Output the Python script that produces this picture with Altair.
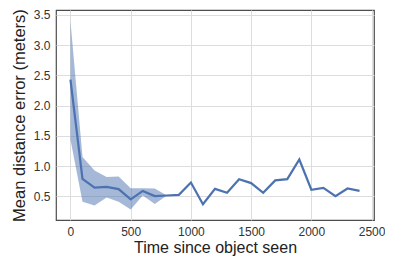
import altair as alt
import pandas as pd

time = [0, 100, 200, 300, 400, 500, 600, 700, 800, 900, 1000, 1100, 1200,
        1300, 1400, 1500, 1600, 1700, 1800, 1900, 2000, 2100, 2200, 2300, 2400]
mean_err = [2.43, 0.79, 0.645, 0.656, 0.62, 0.45, 0.59, 0.505, 0.515, 0.525, 0.73,
            0.37, 0.625, 0.56, 0.785, 0.72, 0.56, 0.765, 0.785, 1.11, 0.61, 0.64,
            0.505, 0.63, 0.59]
ci_low = [1.44, 0.41, 0.35, 0.48, 0.41, 0.285, 0.515, 0.375, 0.515, 0.525, 0.73,
          0.37, 0.625, 0.56, 0.785, 0.72, 0.56, 0.765, 0.785, 1.11, 0.61, 0.64,
          0.505, 0.63, 0.59]
ci_high = [3.40, 1.15, 0.93, 0.82, 0.83, 0.635, 0.635, 0.63, 0.515, 0.525, 0.73,
           0.37, 0.625, 0.56, 0.785, 0.72, 0.56, 0.765, 0.785, 1.11, 0.61, 0.64,
           0.505, 0.63, 0.59]

df = pd.DataFrame({"t": time, "m": mean_err, "lo": ci_low, "hi": ci_high})

color = "#4c72b0"
xscale = alt.Scale(domain=[-120, 2520], nice=False, zero=False)
yscale = alt.Scale(domain=[0.11, 3.58], nice=False, zero=False)

xaxis = alt.Axis(title="Time since object seen", values=[0, 500, 1000, 1500, 2000, 2500],
                 format="d")
yaxis = alt.Axis(title="Mean distance error (meters)", values=[0.5, 1.0, 1.5, 2.0, 2.5, 3.0, 3.5],
                 format=".1f")

band = alt.Chart(df).mark_area(color=color, opacity=0.5).encode(
    x=alt.X("t:Q", scale=xscale, axis=xaxis),
    y=alt.Y("lo:Q", scale=yscale, axis=yaxis),
    y2="hi:Q",
)
line = alt.Chart(df).mark_line(color=color, strokeWidth=2.2).encode(
    x=alt.X("t:Q", scale=xscale, axis=xaxis),
    y=alt.Y("m:Q", scale=yscale, axis=yaxis),
)

chart = (band + line).properties(
    width=318, height=210,
    autosize=alt.AutoSizeParams(type="none"),
    padding={"left": 48, "top": 2, "right": 11, "bottom": 36},
).configure_view(
    stroke="#4d4d4d", strokeWidth=1.2
).configure_axis(
    domain=False, ticks=False,
    grid=True, gridColor="#dddddd", gridWidth=1,
    labelFont="Liberation Sans", labelFontSize=12, labelColor="#333333",
    labelPadding=6, labelOverlap=False, labelFlush=False,
    titleFont="Liberation Sans", titleFontSize=16, titleFontWeight="normal",
    titleColor="#222222",
).configure_axisX(titlePadding=2).configure_axisY(titlePadding=6, titleFontSize=16.5)

chart.save("out.html", embed_options={"renderer": "svg", "actions": False})
